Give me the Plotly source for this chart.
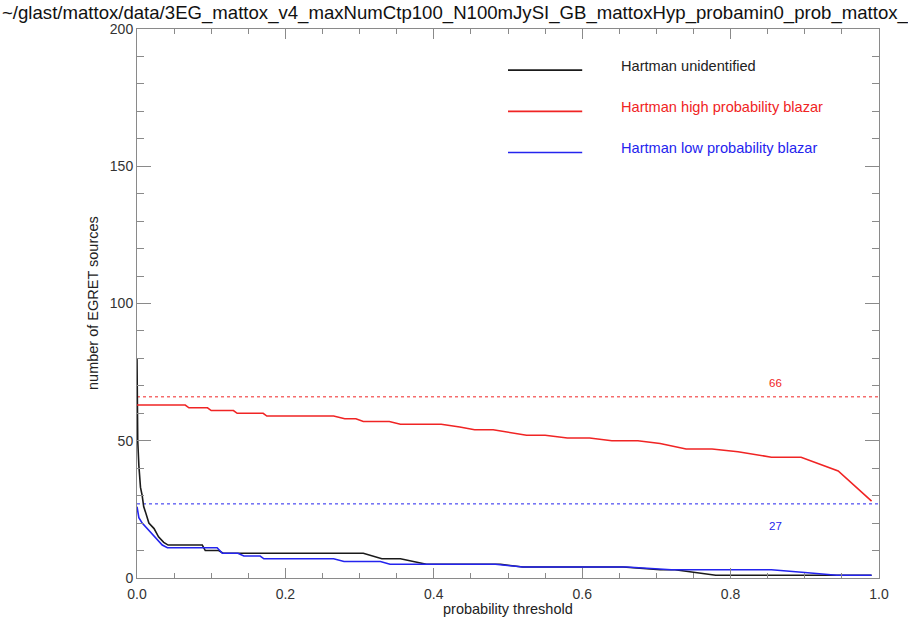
import plotly.graph_objects as go

# Number of EGRET sources above a probability threshold, by Hartman class
thr_unid = [0, 0.0005, 0.001, 0.0025, 0.0047, 0.007, 0.009, 0.0115, 0.016, 0.023,
            0.029, 0.036, 0.042, 0.088, 0.092, 0.110, 0.116, 0.305, 0.33, 0.355,
            0.39, 0.49, 0.52, 0.655, 0.705, 0.725, 0.78, 0.99]
n_unid = [80, 62, 50, 41, 33, 30, 26, 24, 20, 18,
          15, 13, 12, 12, 10, 10, 9, 9, 7, 7,
          5, 5, 4, 4, 3, 3, 1, 1]

thr_high = [0, 0.065, 0.07, 0.095, 0.10, 0.13, 0.135, 0.17, 0.175, 0.265,
            0.28, 0.295, 0.305, 0.34, 0.355, 0.41, 0.435, 0.455, 0.48, 0.525,
            0.55, 0.58, 0.61, 0.64, 0.675, 0.705, 0.74, 0.775, 0.81, 0.855,
            0.895, 0.945, 0.99]
n_high = [63, 63, 62, 62, 61, 61, 60, 60, 59, 59,
          58, 58, 57, 57, 56, 56, 55, 54, 54, 52,
          52, 51, 51, 50, 50, 49, 47, 47, 46, 44,
          44, 39, 28]

thr_low = [0, 0.0025, 0.007, 0.014, 0.02, 0.027, 0.034, 0.041, 0.108, 0.115,
           0.136, 0.144, 0.166, 0.171, 0.265, 0.279, 0.328, 0.341, 0.483, 0.52,
           0.66, 0.72, 0.855, 0.90, 0.943, 0.99]
n_low = [26, 22, 20, 18, 16, 14, 12, 11, 11, 9,
         9, 8, 8, 7, 7, 6, 6, 5, 5, 4,
         4, 3, 3, 2, 1, 1]

# Total counts of each blazar class (reference levels)
total_high = 66
total_low = 27

legend_names = ["Hartman unidentified", "Hartman high probability blazar",
                "Hartman low probability blazar"]

title_text = "~/glast/mattox/data/3EG_mattox_v4_maxNumCtp100_N100mJySI_GB_mattoxHyp_probamin0_prob_mattox_"

BLACK = "#1a1a1a"
RED = "#f02424"
BLUE = "#2424ee"
AXIS = "#8a8a8a"
FONT = "Liberation Sans, Arial, Helvetica, sans-serif"

fig = go.Figure()

# reference levels (dotted)
for level, col in [(total_high, RED), (total_low, BLUE)]:
    fig.add_trace(go.Scatter(x=[0, 1], y=[level, level], mode="lines",
                             line=dict(color=col, width=1, dash="dot"),
                             showlegend=False, hoverinfo="skip"))

for xs, ys, col in [(thr_unid, n_unid, BLACK), (thr_high, n_high, RED),
                    (thr_low, n_low, BLUE)]:
    fig.add_trace(go.Scatter(x=xs, y=ys, mode="lines",
                             line=dict(color=col, width=1.6),
                             showlegend=False))

# hand-drawn key in data coordinates
key_y = [185, 170, 155]
for name, yk, col in zip(legend_names, key_y, [BLACK, RED, BLUE]):
    fig.add_shape(type="line", xref="x", yref="y", x0=0.5, x1=0.6, y0=yk, y1=yk,
                  line=dict(color=col, width=1.6))
    fig.add_annotation(xref="x", yref="y", x=0.649, y=yk + 1.6, text=name,
                       showarrow=False, xanchor="left", yanchor="middle",
                       font=dict(family=FONT, size=14.6, color=col if col != BLACK else "#222"))

# level labels
fig.add_annotation(xref="x", yref="y", x=0.86, y=71, text=str(total_high), showarrow=False,
                   font=dict(family=FONT, size=11.5, color=RED))
fig.add_annotation(xref="x", yref="y", x=0.86, y=19, text=str(total_low), showarrow=False,
                   font=dict(family=FONT, size=11.5, color=BLUE))

# axis titles
fig.add_annotation(xref="paper", yref="paper", x=0.5, y=0, yshift=-31,
                   text="probability threshold", showarrow=False, yanchor="middle",
                   font=dict(family=FONT, size=14.5, color="#222"))
fig.add_annotation(xref="paper", yref="paper", x=0, xshift=-44.5, y=0.5,
                   text="number of EGRET sources", showarrow=False, textangle=-90,
                   xanchor="center", yanchor="middle",
                   font=dict(family=FONT, size=14.5, color="#222"))

fig.update_layout(
    width=908, height=619,
    margin=dict(l=136.5, r=29, t=29.3, b=40.9),
    paper_bgcolor="white", plot_bgcolor="white",
    title=dict(text=title_text, x=2 / 908, xanchor="left", xref="container",
               y=1 - 12 / 619, yanchor="middle", yref="container",
               font=dict(family=FONT, size=18.6, color="#111")),
    xaxis=dict(range=[0, 1], tickvals=[0, 0.2, 0.4, 0.6, 0.8, 1.0],
               ticktext=["0.0", "0.2", "0.4", "0.6", "0.8", "1.0"],
               ticks="inside", ticklen=10, tickcolor=AXIS, tickwidth=1,
               minor=dict(dtick=0.05, ticks="inside", ticklen=5, tickcolor=AXIS, showgrid=False),
               showline=True, linecolor=AXIS, linewidth=1, mirror="allticks",
               showgrid=False, zeroline=False, ticklabelstandoff=3,
               tickfont=dict(family=FONT, size=14, color="#333")),
    yaxis=dict(range=[0, 200], tickvals=[0, 50, 100, 150, 200],
               ticks="inside", ticklen=14, tickcolor=AXIS, tickwidth=1,
               minor=dict(dtick=10, ticks="inside", ticklen=7, tickcolor=AXIS, showgrid=False),
               showline=True, linecolor=AXIS, linewidth=1, mirror="allticks",
               showgrid=False, zeroline=False,
               tickfont=dict(family=FONT, size=14, color="#333")),
)

fig.write_html("out.html")
